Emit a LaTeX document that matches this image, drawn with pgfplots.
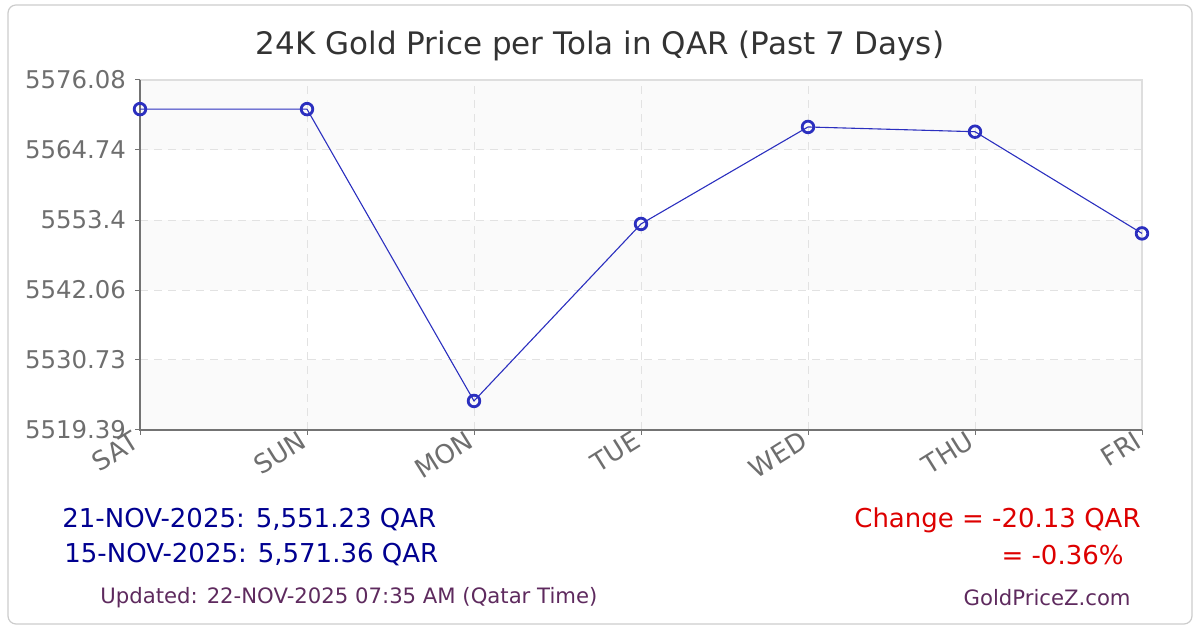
\documentclass[border=0pt]{standalone}
\usepackage{pgfplots}
\pgfplotsset{compat=1.18}
\usepackage{fontspec}
\setmainfont{DejaVu Sans}
\definecolor{lineblue}{HTML}{2B2FBF}
\definecolor{ticktext}{HTML}{6E6E6E}
\definecolor{gridgray}{HTML}{E2E2E2}
\definecolor{band}{HTML}{FAFAFA}
\definecolor{navytext}{HTML}{000090}
\definecolor{redtext}{HTML}{DD0000}
\definecolor{plumtext}{HTML}{5E2A5E}

\pgfplotstableread{
x price
0 5571.36
1 5571.36
2 5524.09
3 5552.76
4 5568.47
5 5567.70
6 5551.23
}\pricedata

\begin{document}
\begin{tikzpicture}[x=0.5pt,y=0.5pt]
\path[use as bounding box] (0,0) rectangle (1200,630);
\draw[color=black!20, line width=0.6pt, rounded corners=4pt] (8,6) rectangle (1192,625);
% alternating horizontal bands behind the plot area
\fill[band] (140,480) rectangle (1142,550);
\fill[band] (140,340) rectangle (1142,410);
\fill[band] (140,200) rectangle (1142,270);
\node[text=black!80, font=\fontsize{15.5}{18}\selectfont] at (600,584) {24K Gold Price per Tola in QAR (Past 7 Days)};
\begin{axis}[
  at={(70pt,100pt)}, anchor=south west,
  width=501pt, height=175pt, scale only axis,
  xmin=0, xmax=6, ymin=5519.39, ymax=5576.08,
  xtick={0,1,2,3,4,5,6},
  xticklabels={SAT,SUN,MON,TUE,WED,THU,FRI},
  ytick={5519.39,5530.73,5542.06,5553.4,5564.74,5576.08},
  yticklabels={5519.39,5530.73,5542.06,5553.4,5564.74,5576.08},
  xtick pos=bottom, ytick pos=left,
  axis line style={draw=none},
  tick align=outside, major tick length=2.5pt,
  tick style={color=black!55, line width=0.5pt},
  grid=major,
  major grid style={color=gridgray, dash pattern=on 4pt off 3pt, line width=0.5pt},
  ticklabel style={text=ticktext},
  yticklabel style={font=\fontsize{12.2}{14}\selectfont, xshift=-1pt},
  xticklabel style={font=\fontsize{13}{15}\selectfont, rotate=32, anchor=north east, yshift=8pt, xshift=1pt},
  clip=false,
]
\draw[color=black!13, line width=0.6pt] (rel axis cs:0,1) -- (rel axis cs:1,1) -- (rel axis cs:1,0);
\draw[color=black!55, line width=0.6pt] (rel axis cs:0,1) -- (rel axis cs:0,0) -- (rel axis cs:1,0);
\addplot[color=lineblue, line width=0.55pt, mark=o,
  mark options={line width=1.4pt, fill=white, scale=1.45}] table[x=x, y=price] {\pricedata};
\end{axis}
\node[anchor=west, inner sep=0pt, text=navytext, font=\fontsize{13}{15}\selectfont] at (62,110) {21-NOV-2025: 5,551.23 QAR};
\node[anchor=west, inner sep=0pt, text=navytext, font=\fontsize{13}{15}\selectfont] at (64,75) {15-NOV-2025: 5,571.36 QAR};
\node[anchor=east, inner sep=0pt, text=redtext, font=\fontsize{13}{15}\selectfont] at (1141,110) {Change = -20.13 QAR};
\node[anchor=east, inner sep=0pt, text=redtext, font=\fontsize{13}{15}\selectfont] at (1124,75) {= -0.36\%};
\node[anchor=west, inner sep=0pt, text=plumtext, font=\fontsize{10.6}{13}\selectfont] at (100,32) {Updated: 22-NOV-2025 07:35 AM (Qatar Time)};
\node[anchor=east, inner sep=0pt, text=plumtext, font=\fontsize{10.6}{13}\selectfont] at (1131,32) {GoldPriceZ.com};
\end{tikzpicture}
\end{document}
